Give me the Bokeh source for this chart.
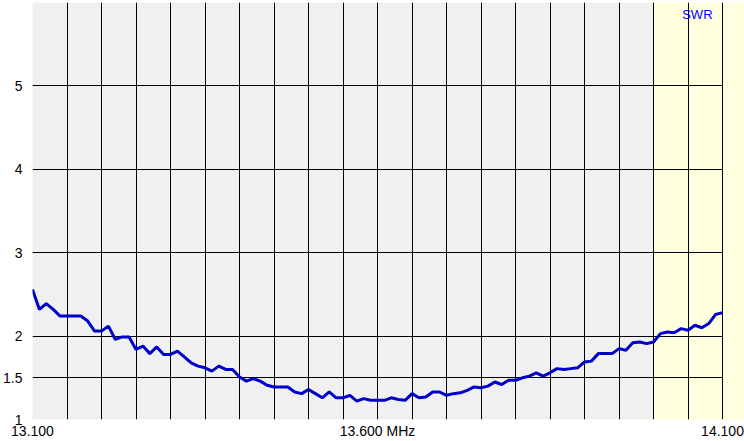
from bokeh.plotting import figure
from bokeh.models import Range1d, FixedTicker, Label
from bokeh.embed import file_html
from bokeh.resources import INLINE

# Sweep frequencies (MHz)
freq_mhz = [
    13.10, 13.11, 13.12, 13.13, 13.14, 13.15, 13.16, 13.17, 13.18, 13.19,
    13.20, 13.21, 13.22, 13.23, 13.24, 13.25, 13.26, 13.27, 13.28, 13.29,
    13.30, 13.31, 13.32, 13.33, 13.34, 13.35, 13.36, 13.37, 13.38, 13.39,
    13.40, 13.41, 13.42, 13.43, 13.44, 13.45, 13.46, 13.47, 13.48, 13.49,
    13.50, 13.51, 13.52, 13.53, 13.54, 13.55, 13.56, 13.57, 13.58, 13.59,
    13.60, 13.61, 13.62, 13.63, 13.64, 13.65, 13.66, 13.67, 13.68, 13.69,
    13.70, 13.71, 13.72, 13.73, 13.74, 13.75, 13.76, 13.77, 13.78, 13.79,
    13.80, 13.81, 13.82, 13.83, 13.84, 13.85, 13.86, 13.87, 13.88, 13.89,
    13.90, 13.91, 13.92, 13.93, 13.94, 13.95, 13.96, 13.97, 13.98, 13.99,
    14.00, 14.01, 14.02, 14.03, 14.04, 14.05, 14.06, 14.07, 14.08, 14.09,
    14.10,
]

# Measured SWR
swr = [
    2.56, 2.32, 2.39, 2.32, 2.24, 2.24, 2.24, 2.24, 2.18, 2.06,
    2.06, 2.12, 1.96, 1.99, 1.99, 1.84, 1.88, 1.79, 1.87, 1.78,
    1.78, 1.82, 1.75, 1.68, 1.64, 1.62, 1.58, 1.64, 1.60, 1.60,
    1.51, 1.46, 1.49, 1.46, 1.41, 1.39, 1.39, 1.39, 1.33, 1.31,
    1.36, 1.31, 1.26, 1.33, 1.26, 1.26, 1.29, 1.22, 1.25, 1.23,
    1.23, 1.23, 1.26, 1.24, 1.23, 1.31, 1.26, 1.27, 1.33, 1.33,
    1.29, 1.31, 1.32, 1.35, 1.39, 1.38, 1.40, 1.45, 1.42, 1.47,
    1.47, 1.50, 1.52, 1.56, 1.52, 1.56, 1.61, 1.60, 1.61, 1.62,
    1.69, 1.70, 1.79, 1.79, 1.79, 1.85, 1.83, 1.92, 1.93, 1.91,
    1.93, 2.03, 2.05, 2.04, 2.09, 2.07, 2.13, 2.10, 2.15, 2.26,
    2.28,
]

grid_freq = [
    13.10, 13.15, 13.20, 13.25, 13.30, 13.35, 13.40, 13.45, 13.50, 13.55,
    13.60, 13.65, 13.70, 13.75, 13.80, 13.85, 13.90, 13.95, 14.00, 14.05,
    14.10,
]
swr_grid = [1, 1.5, 2, 3, 4, 5, 6]

y_tick_values = [1, 1.5, 2, 3, 4, 5]
y_tick_labels = ["1", "1.5", "2", "3", "4", "5"]

x_tick_values = [13.10, 13.60, 14.10]
x_tick_labels = ["13.100", "13.600 MHz", "14.100"]

f_start, f_stop = 13.10, 14.10
band_start = 14.00
swr_min, swr_max = 1, 6

FONT = "Liberation Sans"
FSIZE = "14px"

p = figure(
    width=744, height=441,
    x_range=Range1d(f_start, f_stop + 22 / 691),
    y_range=Range1d(swr_min, swr_max),
    output_backend="svg", toolbar_location=None,
    min_border_left=31, min_border_right=0,
    min_border_top=2, min_border_bottom=20,
    background_fill_color="#ffffe0",
    border_fill_color="white",
    outline_line_color=None,
)

# gray (outside band) background
bg = p.quad(left=[f_start], right=[band_start], bottom=[swr_min], top=[swr_max],
            fill_color="#f0f0f0", line_color=None)
bg.level = "image"

# grids
p.xgrid.ticker = FixedTicker(ticks=grid_freq)
p.xgrid.grid_line_color = "black"
p.xgrid.grid_line_width = 1
p.ygrid.ticker = FixedTicker(ticks=swr_grid)
p.ygrid.grid_line_color = "black"
p.ygrid.grid_line_width = 1
p.ygrid.cross_bounds = (f_start, f_stop)

# axes: labels only
for ax in (p.xaxis[0], p.yaxis[0]):
    ax.axis_line_color = None
    ax.major_tick_line_color = None
    ax.minor_tick_line_color = None
    ax.major_tick_out = 0
    ax.major_tick_in = 0
    ax.minor_tick_out = 0
    ax.minor_tick_in = 0
    ax.major_label_text_font = FONT
    ax.major_label_text_font_size = FSIZE
    ax.major_label_text_color = "black"

p.yaxis.ticker = FixedTicker(ticks=y_tick_values)
p.yaxis.major_label_overrides = {v: t for v, t in zip(y_tick_values, y_tick_labels)}
p.yaxis.major_label_standoff = 10

p.xaxis.ticker = FixedTicker(ticks=x_tick_values)
p.xaxis.major_label_overrides = {v: t for v, t in zip(x_tick_values, x_tick_labels)}
p.xaxis.major_label_standoff = 3

# SWR curve
p.line(freq_mhz, swr, line_color="#0000CC", line_width=3)

# series name
p.add_layout(Label(x=f_stop, y=swr_max, text="SWR", x_offset=-10, y_offset=-4,
                   text_align="right", text_baseline="top",
                   text_font=FONT, text_font_size="13px", text_color="#0000FF"))

open("out.html", "w").write(file_html(p, INLINE))
